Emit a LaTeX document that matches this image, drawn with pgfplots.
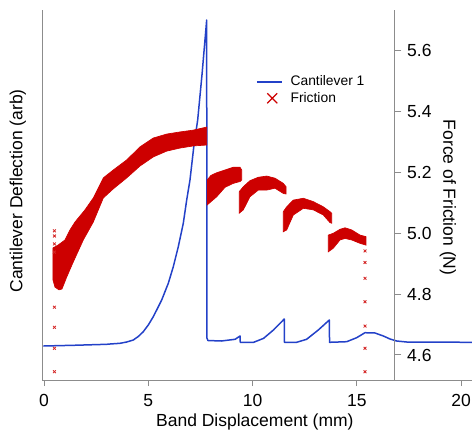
\documentclass[border=0pt]{standalone}
\usepackage{pgfplots}
\pgfplotsset{compat=1.18}
\usepackage{fontspec}
\setmainfont{Liberation Sans}
\definecolor{myblue}{RGB}{35,65,200}
\definecolor{myred}{RGB}{205,0,0}
\definecolor{axgray}{RGB}{140,140,140}

\pgfplotstableread{
x y
-0.03 0.340
1.40 0.347
3.01 0.357
3.164 0.360
3.643 0.367
3.965 0.380
4.281 0.400
4.520 0.435
4.760 0.483
5.000 0.550
5.240 0.633
5.642 0.800
5.959 0.967
6.199 1.133
6.438 1.333
6.678 1.567
6.841 1.800
6.999 2.000
7.191 2.350
7.368 2.600
7.574 3.050
7.800 3.600
7.81 0.420
7.86 0.395
8.50 0.390
9.16 0.407
9.40 0.440
9.41 0.377
10.05 0.377
10.53 0.417
11.00 0.500
11.52 0.610
11.53 0.377
12.11 0.377
12.59 0.407
13.15 0.500
13.68 0.600
13.69 0.377
14.51 0.383
14.99 0.423
15.39 0.473
15.87 0.470
16.27 0.440
16.59 0.410
16.91 0.390
17.39 0.380
20.52 0.377
}\cantilever

\pgfplotstableread{
x y
0.431 4.952
0.671 4.961
1.007 4.978
1.246 5.011
1.486 5.037
1.726 5.057
1.965 5.077
2.363 5.116
2.843 5.182
3.322 5.208
3.965 5.241
4.602 5.284
5.240 5.313
5.882 5.326
6.520 5.333
7.157 5.339
7.800 5.349
7.800 5.290
7.157 5.287
6.520 5.280
5.882 5.270
5.240 5.251
4.602 5.221
3.965 5.182
3.322 5.146
2.843 5.116
2.363 5.037
1.884 4.978
1.405 4.906
1.088 4.856
0.863 4.817
0.719 4.814
0.527 4.823
0.431 4.846
0.431 4.952
}\segA

\pgfplotstableread{
x y
7.82 5.175
8.00 5.190
8.279 5.199
8.677 5.208
9.075 5.217
9.396 5.217
9.478 5.208
9.478 5.175
9.396 5.170
9.075 5.164
8.677 5.151
8.279 5.120
7.82 5.093
7.82 5.175
}\segB

\pgfplotstableread{
x y
9.362 5.137
9.554 5.153
9.875 5.173
10.273 5.184
10.676 5.188
11.074 5.181
11.472 5.164
11.601 5.153
11.601 5.129
11.472 5.131
11.074 5.148
10.676 5.142
10.273 5.142
9.875 5.120
9.554 5.077
9.362 5.066
9.362 5.137
}\segC

\pgfplotstableread{
x y
11.472 5.071
11.635 5.087
11.951 5.109
12.430 5.115
12.910 5.104
13.389 5.087
13.710 5.071
13.792 5.066
13.792 5.033
13.710 5.035
13.389 5.060
12.910 5.077
12.430 5.082
11.951 5.060
11.635 5.011
11.472 5.005
11.472 5.071
}\segD

\pgfplotstableread{
x y
13.629 4.994
13.869 5.000
14.190 5.013
14.430 5.018
14.751 5.011
15.149 4.994
15.436 4.989
15.436 4.961
15.149 4.967
14.751 4.978
14.430 4.983
14.190 4.978
13.869 4.951
13.629 4.939
13.629 4.994
}\segE

\pgfplotstableread{
x y
0.50 5.008
0.50 4.991
0.50 4.965
0.50 4.938
0.50 4.757
0.50 4.691
0.50 4.622
0.50 4.545
15.39 4.942
15.39 4.904
15.39 4.852
15.39 4.775
15.39 4.695
15.39 4.622
15.39 4.545
}\isolated

\begin{document}
\begin{tikzpicture}
\begin{axis}[
  scale only axis, width=258pt, height=222pt,
  xmin=-0.0959, xmax=20.52, ymin=0, ymax=3.7,
  axis x line*=bottom, axis y line*=left,
  axis line style={axgray, -, line width=0.6pt},
  xtick={0,5,10,15,20}, ytick=\empty,
  tick align=outside, major tick length=3.6pt,
  tick style={axgray, line width=0.6pt},
  tick label style={font=\fontsize{10.5}{12}\selectfont, black},
  xticklabel style={yshift=-1.5pt},
  /pgf/number format/assume math mode=true,
  xlabel={Band Displacement (mm)},
  ylabel={Cantilever Deflection (arb)},
  label style={font=\fontsize{10.5}{12}\selectfont},
  xlabel style={at={(axis description cs:0.495,-0.113)}, anchor=center},
  ylabel style={at={(axis description cs:-0.056,0.511)}, anchor=center},
]
\addplot[myblue, line width=0.9pt, line join=round] table[x=x,y=y] {\cantilever};
\end{axis}
\begin{axis}[
  scale only axis, width=211.38pt, height=222pt,
  xmin=-0.0959, xmax=16.793, ymin=4.5178, ymax=5.7337,
  axis x line=none, axis y line*=right,
  axis line style={axgray, -, line width=0.6pt},
  ytick={4.6,4.8,5.0,5.2,5.4,5.6},
  tick align=outside, major tick length=4.2pt,
  tick style={axgray, line width=0.6pt},
  tick label style={font=\fontsize{10.5}{12}\selectfont, black},
  /pgf/number format/assume math mode=true,
  yticklabel style={/pgf/number format/.cd, fixed, fixed zerofill, precision=1},
  ylabel={Force of Friction (N)},
  label style={font=\fontsize{10.5}{12}\selectfont},
  ylabel style={at={(axis description cs:1.152,0.493)}, anchor=center, rotate=180},
  legend style={draw=none, fill=none, at={(axis description cs:0.607,0.832)}, anchor=north west,
    font=\fontsize{8.3}{10}\selectfont, inner sep=0pt, row sep=-1.8pt},
  legend cell align=left,
]
\addlegendimage{legend image code/.code={\draw[myblue, line width=0.9pt] (0pt,0pt) -- (15pt,0pt); \path (18pt,0pt);}}
\addlegendentry{Cantilever 1}
\addlegendimage{legend image code/.code={\draw[myred, line width=0.7pt] (6.2pt,-3pt) -- (12.2pt,3pt) (6.2pt,3pt) -- (12.2pt,-3pt); \path (0pt,0pt) (18pt,0pt);}}
\addlegendentry{Friction}
\addplot[fill=myred, draw=myred, line width=0.4pt, forget plot] table[x=x,y=y] {\segA};
\addplot[fill=myred, draw=myred, line width=0.4pt, forget plot] table[x=x,y=y] {\segB};
\addplot[fill=myred, draw=myred, line width=0.4pt, forget plot] table[x=x,y=y] {\segC};
\addplot[fill=myred, draw=myred, line width=0.4pt, forget plot] table[x=x,y=y] {\segD};
\addplot[fill=myred, draw=myred, line width=0.4pt, forget plot] table[x=x,y=y] {\segE};
\addplot[only marks, mark=x, mark size=1.2pt, mark options={myred!85!white, line width=0.5pt}, forget plot] table[x=x,y=y] {\isolated};
\end{axis}
\pgfresetboundingbox
\path (-25.2pt,-29.4pt) rectangle (258pt,228pt);
\end{tikzpicture}
\end{document}
